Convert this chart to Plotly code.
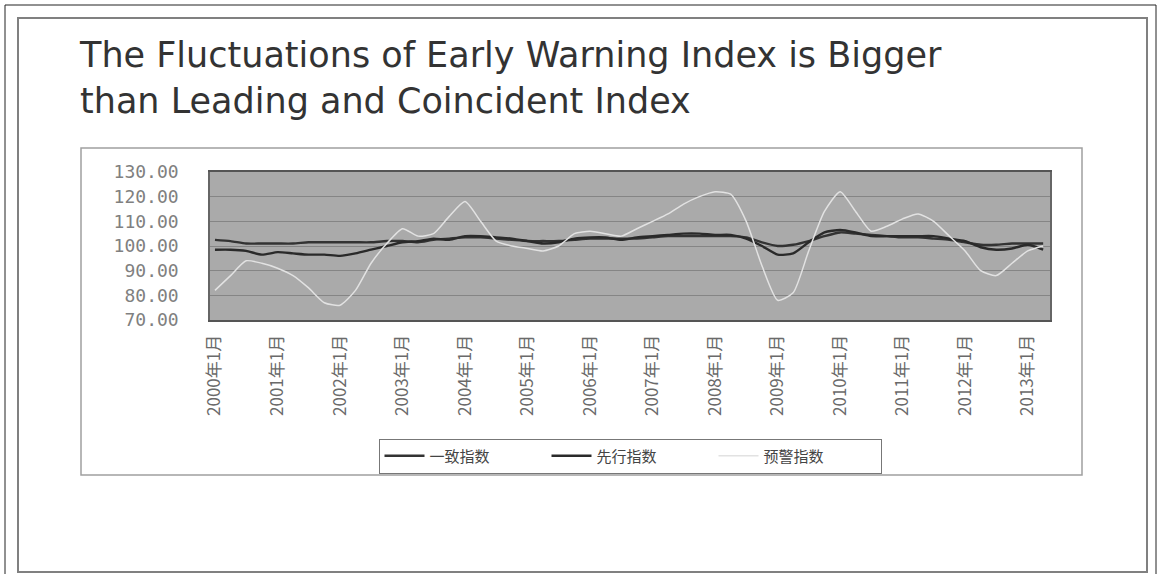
import plotly.graph_objects as go
import pandas as pd

title_text = "The Fluctuations of Early Warning Index is Bigger<br>than Leading and Coincident Index"
series_names = ["一致指数", "先行指数", "预警指数"]

# quarterly readings, starting 2000-01
coincident = [102.5, 102, 101, 101, 101, 101, 101.5, 101.5, 101.5, 101.5, 101.5, 102,
              102, 101.5, 102.5, 103, 103.5, 103.5, 103, 102.5, 102, 102, 102, 102.5,
              103, 103, 103, 103, 103.5, 104, 104, 104, 104, 104, 103.5, 101.5,
              100, 100.5, 102, 104, 105.5, 105, 104.5, 104, 103.5, 103.5, 103, 102.5,
              101.5, 100.5, 100.5, 101, 101, 101]
leading = [98.5, 98.5, 98, 96.5, 97.5, 97, 96.5, 96.5, 96, 97, 98.5, 100,
           101.5, 102, 103, 102.5, 104, 104, 103.5, 103, 102, 101, 101.5, 103,
           103.5, 103.5, 102.5, 103.5, 104, 104.5, 105, 105, 104.5, 104.5, 103, 100,
           96.5, 97, 101.5, 105.5, 106.5, 105.5, 104, 104, 104, 104, 104, 103,
           102, 99.5, 98.5, 99, 100.5, 98.5]
warning = [82, 88, 94, 93, 91, 88, 83, 77, 76, 82, 93, 101,
           107, 104, 105, 112, 118, 110, 102, 100, 99, 98, 100, 105,
           106, 105, 104, 107, 110, 113, 117, 120, 122, 121, 110, 92,
           78, 81, 98, 114, 122, 114, 106, 108, 111, 113, 110, 104,
           98, 90, 88, 93, 98, 100]
dates = pd.date_range("2000-01-01", periods=len(coincident), freq="QS")

tick_years = list(range(2000, 2014))
tick_vals = [f"{y}-01-01" for y in tick_years]
tick_text = [f"{y}年1月" for y in tick_years]

fig = go.Figure()
fig.add_trace(go.Scatter(x=dates, y=coincident, name=series_names[0], mode="lines",
                         line=dict(color="#333333", width=2.4, shape="spline", smoothing=0.6)))
fig.add_trace(go.Scatter(x=dates, y=leading, name=series_names[1], mode="lines",
                         line=dict(color="#2a2a2a", width=2.4, shape="spline", smoothing=0.6)))
fig.add_trace(go.Scatter(x=dates, y=warning, name=series_names[2], mode="lines",
                         line=dict(color="#e2e2e2", width=1.5, shape="spline", smoothing=0.6)))

L, R, T, B = 210, 1050, 172, 320
W, H = 1163, 574


def px(xp):
    return (xp - L) / (R - L)


def py(yp):
    return (B - yp) / (B - T)


shapes = [
    dict(type="rect", xref="paper", yref="paper", x0=px(5), x1=px(1156), y0=py(5), y1=py(590),
         line=dict(color="#222", width=1)),
    dict(type="rect", xref="paper", yref="paper", x0=px(18), x1=px(1147), y0=py(18), y1=py(572),
         line=dict(color="#808080", width=2)),
    dict(type="rect", xref="paper", yref="paper", x0=px(81), x1=px(1082), y0=py(148), y1=py(475),
         line=dict(color="#a0a0a0", width=1.5)),
]

fig.update_layout(
    width=W, height=H,
    margin=dict(l=L, r=W - R, t=T, b=H - B),
    paper_bgcolor="white",
    plot_bgcolor="#aaaaaa",
    showlegend=True,
    shapes=shapes,
    title=dict(text=title_text, x=80 / W, xref="container", xanchor="left",
               y=1 - 67 / H, yref="container", yanchor="top",
               font=dict(family="DejaVu Sans", size=35, color="#333333")),
    legend=dict(orientation="h", x=0.5, xanchor="center", y=py(456), yanchor="middle",
                bordercolor="#777", borderwidth=1, bgcolor="white",
                font=dict(family="Noto Sans CJK SC", size=15, color="#444"),
                itemwidth=40, entrywidth=112),
    xaxis=dict(type="date", range=["1999-12-03", "2013-05-11"],
               tickmode="array", tickvals=tick_vals, ticktext=tick_text,
               tickangle=-90, showgrid=False, ticks="", ticklabelstandoff=6,
               tickfont=dict(family="Noto Sans CJK SC", size=17, color="#6a6a6a"),
               showline=True, linecolor="#555", linewidth=2, mirror=True, zeroline=False),
    yaxis=dict(range=[70, 130], dtick=10, tick0=70, tickformat=".2f",
               showgrid=True, gridcolor="#858585", gridwidth=1.2,
               tickfont=dict(family="DejaVu Sans Mono", size=18, color="#808080"),
               ticklabelstandoff=26,
               showline=True, linecolor="#666", linewidth=1.5, mirror=True, zeroline=False),
)

fig.write_html("out.html", config={"displayModeBar": False},
               post_script="document.body.style.margin='0px';")
